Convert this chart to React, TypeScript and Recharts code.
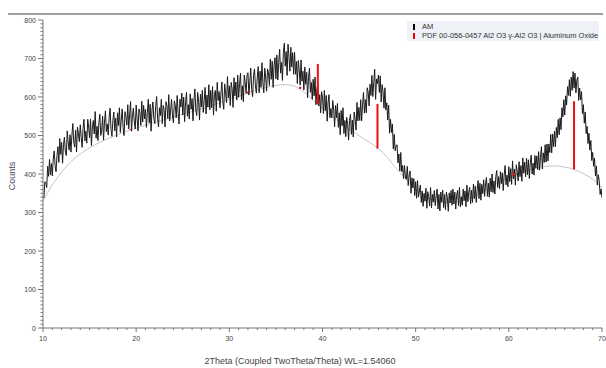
import { ComposedChart, Line, XAxis, YAxis, Legend, Label } from "recharts";

// measured pattern, 2θ from 10° to 70° in 0.1° steps (one row per degree)
const START_ANGLE = 10;
const STEP = 0.1;
const amCounts = [
  340, 338, 380, 378, 365, 420, 394, 438, 398, 427,
  395, 439, 460, 422, 406, 448, 471, 430, 492, 451,
  482, 428, 476, 496, 457, 448, 512, 483, 462, 502,
  457, 500, 531, 483, 470, 514, 457, 522, 506, 484,
  528, 495, 469, 519, 542, 486, 511, 480, 542, 522,
  494, 543, 474, 522, 539, 504, 562, 493, 524, 487,
  534, 555, 500, 514, 550, 488, 535, 564, 510, 530,
  501, 548, 571, 516, 498, 538, 561, 512, 545, 496,
  559, 526, 572, 508, 540, 569, 520, 500, 562, 549,
  527, 580, 517, 555, 588, 511, 551, 571, 535, 517,
  579, 544, 512, 569, 559, 526, 589, 535, 578, 543,
  568, 521, 559, 594, 533, 581, 511, 566, 587, 543,
  531, 578, 601, 544, 522, 572, 552, 594, 531, 578,
  568, 522, 588, 577, 544, 606, 538, 566, 594, 550,
  533, 590, 577, 546, 604, 559, 530, 594, 574, 610,
  553, 600, 536, 585, 612, 550, 580, 543, 608, 568,
  596, 538, 592, 621, 566, 552, 612, 589, 540, 607,
  574, 617, 560, 591, 625, 556, 605, 574, 632, 567,
  617, 572, 627, 553, 606, 617, 563, 638, 591, 614,
  572, 611, 639, 588, 568, 634, 610, 585, 653, 598,
  629, 578, 638, 621, 573, 650, 603, 639, 592, 657,
  599, 635, 662, 593, 629, 588, 657, 638, 610, 657,
  663, 605, 639, 675, 619, 601, 656, 673, 629, 610,
  652, 679, 611, 667, 625, 689, 638, 611, 675, 652,
  615, 673, 663, 630, 698, 646, 693, 625, 682, 702,
  647, 709, 644, 690, 724, 662, 690, 643, 715, 740,
  680, 718, 656, 737, 705, 667, 729, 678, 715, 659,
  716, 659, 692, 635, 695, 671, 631, 696, 641, 667,
  618, 678, 633, 664, 598, 651, 675, 612, 638, 594,
  646, 603, 652, 580, 620, 635, 577, 606, 559, 614,
  599, 557, 617, 565, 604, 537, 587, 606, 546, 570,
  546, 591, 566, 523, 578, 546, 583, 521, 559, 502,
  565, 525, 572, 505, 539, 497, 547, 529, 488, 539,
  555, 503, 540, 496, 561, 544, 514, 586, 538, 573,
  539, 593, 538, 580, 612, 558, 593, 559, 624, 614,
  577, 633, 604, 656, 601, 638, 672, 594, 647, 635,
  657, 612, 655, 587, 632, 613, 571, 624, 566, 585,
  540, 579, 506, 542, 508, 530, 465, 503, 460, 474,
  476, 429, 452, 408, 456, 406, 422, 388, 422, 392,
  386, 420, 370, 397, 408, 350, 390, 364, 388, 344,
  380, 337, 383, 340, 356, 371, 326, 356, 316, 350,
  329, 363, 311, 354, 341, 317, 365, 312, 347, 327,
  357, 318, 343, 361, 309, 347, 304, 353, 327, 358,
  313, 347, 307, 353, 339, 303, 351, 325, 357, 319,
  361, 322, 353, 309, 345, 357, 318, 365, 315, 341,
  319, 361, 331, 356, 315, 371, 328, 353, 365, 323,
  358, 326, 374, 336, 369, 326, 359, 383, 336, 376,
  332, 373, 349, 385, 342, 374, 391, 342, 376, 340,
  389, 354, 400, 352, 382, 348, 393, 409, 365, 393,
  362, 406, 375, 403, 357, 398, 422, 372, 397, 367,
  419, 380, 414, 373, 434, 387, 413, 371, 424, 407,
  382, 432, 393, 422, 381, 442, 402, 431, 393, 441,
  398, 437, 388, 429, 449, 400, 428, 397, 448, 415,
  447, 411, 458, 410, 443, 471, 413, 455, 430, 476,
  431, 478, 434, 478, 456, 503, 455, 504, 471, 511,
  471, 521, 494, 542, 502, 546, 515, 572, 548, 593,
  553, 603, 579, 627, 604, 645, 602, 652, 617, 666,
  623, 662, 611, 644, 652, 591, 623, 593, 614, 557,
  580, 532, 561, 505, 524, 479, 506, 462, 487, 435,
  456, 420, 441, 395, 421, 371, 398, 383, 347, 361,
  338,
];

// fitted background (gray)
const bgAngles = [
  10, 11, 12, 13, 14, 15, 16, 17, 18, 19, 20, 21, 22, 23, 24, 25, 26, 27, 28, 29,
  30, 31, 32, 33, 34, 35, 36, 37, 38, 39, 40, 41, 42, 43, 44, 45, 46, 47, 48, 49,
  50, 51, 52, 53, 54, 55, 56, 57, 58, 59, 60, 61, 62, 63, 64, 65, 66, 67, 68, 69, 70,
];
const bgCounts = [
  330, 372, 405, 432, 452, 468, 481, 492, 502, 511, 519, 527, 534, 541, 548, 555, 562, 569, 577, 585,
  594, 602, 610, 618, 625, 630, 632, 628, 613, 592, 570, 550, 532, 515, 498, 483, 466, 442, 412, 385,
  360, 342, 331, 326, 326, 330, 339, 351, 365, 379, 391, 401, 409, 416, 420, 421, 418, 412, 401, 386, 365,
];

// PDF 00-056-0457 reference sticks
const pdfAngles = [19.4, 31.9, 37.6, 39.5, 45.9, 60.5, 67.0];
const pdfBase = [514, 609, 621, 581, 466, 396, 412];
const pdfTop = [517, 614, 627, 686, 582, 404, 589];

const xTickLabels = [10, 20, 30, 40, 50, 60, 70];
const yTickLabels = [0, 100, 200, 300, 400, 500, 600, 700, 800];

const amData = amCounts.map((c, i) => ({ x: +(START_ANGLE + i * STEP).toFixed(1), y: c }));
const bgData = bgAngles.map((a, i) => ({ x: a, y: bgCounts[i] }));
const sticks = pdfAngles.map((a, i) => [
  { x: a, y: pdfBase[i] },
  { x: a, y: pdfTop[i] },
]);

const xTicks = Array.from({ length: 61 }, (_, i) => 10 + i);
const yTicks = Array.from({ length: 81 }, (_, i) => i * 10);

const FONT = "'Liberation Sans', Arial, sans-serif";

function XTick({ x, y, payload }: any) {
  const major = xTickLabels.includes(payload.value);
  return (
    <g>
      <line x1={x} y1={y} x2={x} y2={y + (major ? 4 : 2)} stroke="#777" />
      {major && (
        <text x={x} y={y + 13} textAnchor="middle" fontSize={7} fill="#444" fontFamily={FONT}>
          {payload.value}
        </text>
      )}
    </g>
  );
}

function YTick({ x, y, payload }: any) {
  const major = yTickLabels.includes(payload.value);
  return (
    <g>
      <line x1={x} y1={y} x2={x - (major ? 5 : 2.5)} y2={y} stroke="#777" />
      {major && (
        <text x={x - 7} y={y + 2.5} textAnchor="end" fontSize={7} fill="#444" fontFamily={FONT}>
          {payload.value}
        </text>
      )}
    </g>
  );
}

function LegendBox() {
  return (
    <div
      style={{
        width: 192,
        height: 20,
        background: "#eef1f6",
        fontFamily: FONT,
        fontSize: 7.5,
        color: "#333",
        lineHeight: "9px",
        padding: "1px 0 0 6px",
        boxSizing: "border-box",
        whiteSpace: "nowrap",
      }}
    >
      <div style={{ display: "flex", alignItems: "center" }}>
        <span style={{ width: 2, height: 6, background: "#000", marginRight: 7 }} />
        AM
      </div>
      <div style={{ display: "flex", alignItems: "center" }}>
        <span style={{ width: 2, height: 6, background: "#e00", marginRight: 7 }} />
        PDF 00-056-0457 Al2 O3 γ-Al2 O3 | Aluminum Oxide
      </div>
    </div>
  );
}

export default function App() {
  return (
    <div style={{ position: "absolute", left: 0, top: 0, width: 606, height: 368, background: "#fff" }}>
      <div style={{ position: "absolute", left: 8, top: 13, width: 595, height: 2, background: "#a0a0a0" }} />
      <ComposedChart width={606} height={368} margin={{ top: 20, right: 4, left: 0, bottom: 0 }}>
        <XAxis
          dataKey="x"
          type="number"
          domain={[10, 70]}
          ticks={xTicks}
          interval={0}
          allowDataOverflow
          tick={<XTick />}
          tickLine={false}
          tickSize={0}
          tickMargin={0}
          axisLine={{ stroke: "#777" }}
          height={40}
        >
          <Label
            content={() => (
              <text x={300} y={364} textAnchor="middle" fontSize={9} fill="#444" fontFamily={FONT}>
                2Theta (Coupled TwoTheta/Theta) WL=1.54060
              </text>
            )}
          />
        </XAxis>
        <YAxis
          type="number"
          domain={[0, 800]}
          ticks={yTicks}
          interval={0}
          allowDataOverflow
          tick={<YTick />}
          tickLine={false}
          tickSize={0}
          tickMargin={0}
          axisLine={{ stroke: "#777" }}
          width={43}
        >
          <Label
            content={() => (
              <text
                x={15}
                y={176}
                transform="rotate(-90 15 176)"
                textAnchor="middle"
                fontSize={9}
                fill="#445"
                fontFamily={FONT}
              >
                Counts
              </text>
            )}
          />
        </YAxis>
        <Legend
          layout="horizontal"
          verticalAlign="middle"
          align="center"
          wrapperStyle={{ top: 21, left: 407, width: 192 }}
          content={<LegendBox />}
        />
        <Line
          data={bgData}
          dataKey="y"
          type="monotone"
          stroke="#c4c4c4"
          strokeWidth={1}
          dot={false}
          isAnimationActive={false}
          legendType="none"
        />
        <Line
          data={amData}
          dataKey="y"
          name="AM"
          type="linear"
          stroke="#1a1a1a"
          strokeWidth={1}
          dot={false}
          isAnimationActive={false}
        />
        {sticks.map((s, i) => (
          <Line
            key={i}
            data={s}
            dataKey="y"
            type="linear"
            stroke="#f01010"
            strokeWidth={2}
            dot={false}
            isAnimationActive={false}
            legendType="none"
          />
        ))}
      </ComposedChart>
    </div>
  );
}
